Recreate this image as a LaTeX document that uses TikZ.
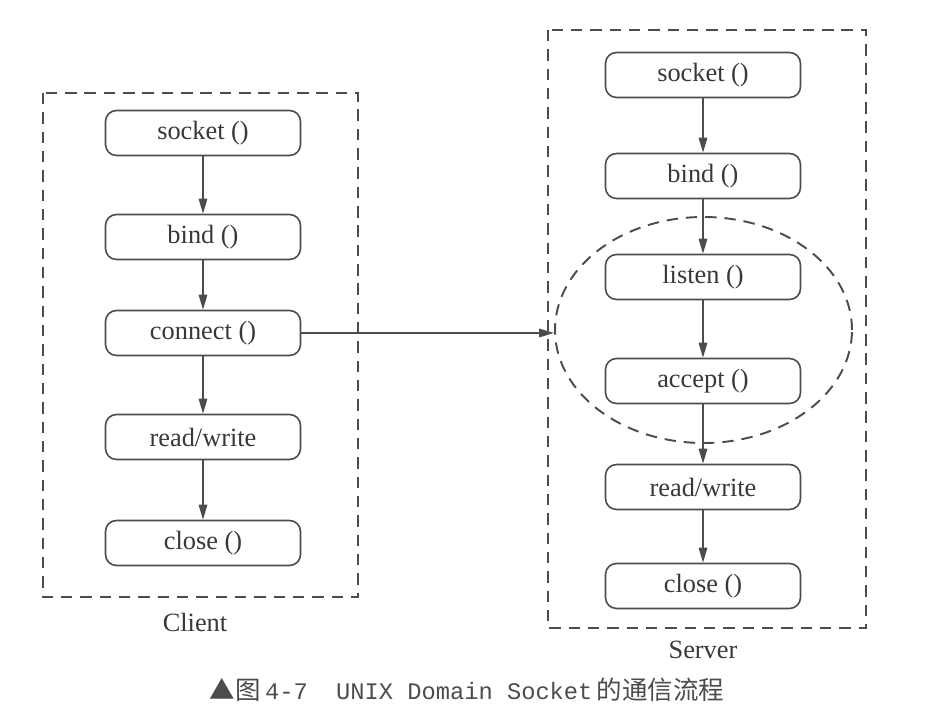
\documentclass[tikz,border=0pt]{standalone}
\usepackage{fontspec}
\setmainfont{Liberation Serif}
\setmonofont{Liberation Mono}
\newfontfamily\cjk{Noto Sans CJK SC}
\usetikzlibrary{arrows.meta,shapes.geometric}
\tikzset{
	func/.style={draw=black!70, line width=0.9pt, rounded corners=0.22cm, minimum width=3.9cm, minimum height=0.9cm, text=black!78, font=\fontsize{15}{17}\selectfont},
	flow/.style={draw=black!70, line width=0.9pt, -{Triangle[length=3mm,width=1.7mm]}},
	group/.style={draw=black!70, line width=1.1pt, dash pattern=on 6.5pt off 4.5pt}
}
\begin{document}
\begin{tikzpicture}
			%%%%% START %%%%%
			\useasboundingbox (0, 0) rectangle (18.84, -14.44);
			
			% client side
			\draw[group] (0.86, -1.86) rectangle (7.16, -11.94);
			\node[func] (csocket) at (4.06, -2.66) {socket ()};
			\node[func] (cbind) at (4.06, -4.74) {bind ()};
			\node[func] (cconnect) at (4.06, -6.66) {connect ()};
			\node[func] (crw) at (4.06, -8.74) {read/write};
			\node[func] (cclose) at (4.06, -10.86) {close ()};
			\node[text=black!78, font=\fontsize{15}{17}\selectfont] (client) at (3.9, -12.44) {Client};
			
			\draw[flow] (csocket) -- (cbind);
			\draw[flow] (cbind) -- (cconnect);
			\draw[flow] (cconnect) -- (crw);
			\draw[flow] (crw) -- (cclose);
			
			% server side
			\draw[group] (10.96, -0.6) rectangle (17.32, -12.56);
			\node[func] (ssocket) at (14.06, -1.5) {socket ()};
			\node[func] (sbind) at (14.06, -3.52) {bind ()};
			\node[func] (slisten) at (14.06, -5.54) {listen ()};
			\node[func] (saccept) at (14.06, -7.62) {accept ()};
			\node[func] (srw) at (14.06, -9.74) {read/write};
			\node[func] (sclose) at (14.06, -11.72) {close ()};
			\node[text=black!78, font=\fontsize{15}{17}\selectfont] (server) at (14.06, -13.0) {Server};
			\node[group, ellipse, minimum width=5.94cm, minimum height=4.52cm, inner sep=0pt] (wait) at (14.07, -6.6) {};
			
			\draw[flow] (ssocket) -- (sbind);
			\draw[flow] (sbind) -- (slisten);
			\draw[flow] (slisten) -- (saccept);
			\draw[flow] (saccept) -- (srw);
			\draw[flow] (srw) -- (sclose);
			
			\draw[flow] (cconnect.east) -- (cconnect.east -| wait.west);
			
			\node[text=black!70, font=\fontsize{14.5}{16}\selectfont] (caption) at (9.34, -13.8) {{\cjk ▲图}\,{\ttfamily\fontsize{13.5}{15}\selectfont 4-7\ \ UNIX Domain Socket}\,{\cjk 的通信流程}};
			%%%%% END %%%%%
		\end{tikzpicture}
\end{document}
